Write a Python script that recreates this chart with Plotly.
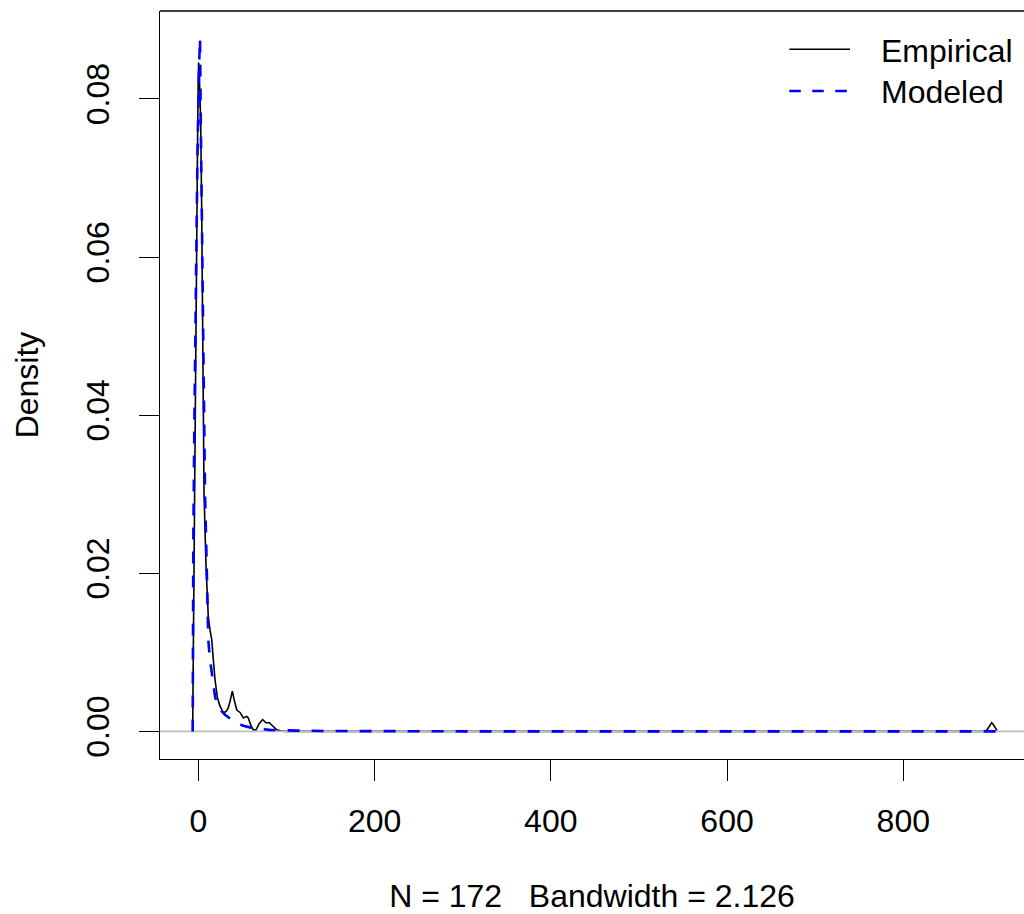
import plotly.graph_objects as go

# ---- data ----
emp_x = [-6.4, -6.0, -5.7, -4.7, -3.7, -2.7, -1.8, -1.0, -0.3, 0.3, 1.0, 1.8, 2.7, 3.8,
         5.0, 6.5, 8.7, 11.3, 13.3, 15.2, 17.0, 19.0, 21.6, 24.6, 27.7, 30.0, 32.2, 34.0,
         36.0, 38.6, 40.9, 43.6, 47.3, 51.1, 54.9, 56.7, 59.5, 62.4, 65.5, 69.2, 73.0,
         76.8, 80.6, 84.4, 89.0, 95.0, 100.0, 890.0, 893.0, 895.0, 897.0, 899.0, 900.3,
         902.0, 904.0, 906.4]
emp_y = [0.0003, 0.006, 0.016, 0.030, 0.042, 0.053, 0.063, 0.073, 0.081, 0.0846, 0.0835,
         0.081, 0.077, 0.066, 0.048, 0.030, 0.021, 0.0145, 0.0128, 0.0116, 0.0091, 0.0065,
         0.0043, 0.0032, 0.0025, 0.0024, 0.0026, 0.0030, 0.0038, 0.0051, 0.0039, 0.0027,
         0.0024, 0.0017, 0.0019, 0.0017, 0.0008, 0.0002, 0.0002, 0.0010, 0.0015, 0.0011,
         0.0011, 0.0007, 0.0002, 0.00003, 0.0, 0.0, 0.00003, 0.0002, 0.0006, 0.0010,
         0.00109, 0.0009, 0.0005, 0.0001]

mod_x = [-6.4, -6.2, -5.7, -4.5, -3.0, -1.1, 0.8, 1.9, 2.7, 3.8, 5.0, 6.1, 7.6, 9.5,
         11.3, 13.0, 15.2, 17.0, 19.0, 22.7, 30.3, 39.7, 51.0, 62.4, 81.0, 112.0, 150.0,
         300.0, 600.0, 906.4]
mod_y = [0.0, 0.012, 0.024, 0.039, 0.057, 0.072, 0.084, 0.0877, 0.078, 0.066, 0.054,
         0.042, 0.030, 0.021, 0.0116, 0.0093, 0.0074, 0.0058, 0.0044, 0.0030, 0.0021,
         0.0013, 0.0007, 0.0004, 0.0002, 0.0001, 0.00005, 0.00001, 0.0, 0.0]

x_ticks = [0, 200, 400, 600, 800]
y_ticks = [0.0, 0.02, 0.04, 0.06, 0.08]
y_ticktext = ["0.00", "0.02", "0.04", "0.06", "0.08"]
legend_names = ["Empirical", "Modeled"]
x_title = "N = 172\u00a0\u00a0 Bandwidth = 2.126"
y_title = "Density"

X_RANGE = [-43.5, 937.0]
Y_RANGE = [-0.00349, 0.09112]

FONT = dict(family="Liberation Sans, Arial, sans-serif", size=32, color="black")

fig = go.Figure()
fig.add_trace(go.Scatter(x=emp_x, y=emp_y, mode="lines", name=legend_names[0],
                         line=dict(color="black", width=1.6), showlegend=False))
fig.add_trace(go.Scatter(x=X_RANGE, y=[0, 0], mode="lines", line=dict(color="#bebebe", width=1.6),
                         showlegend=False, hoverinfo="skip"))
fig.add_trace(go.Scatter(x=mod_x, y=mod_y, mode="lines", name=legend_names[1],
                         line=dict(color="#0000ff", width=2.6, dash="12px,12px"), showlegend=False))

L, T, B = 160, 11, 155
W, H = 1024, 914
pw = W - L
ph = H - T - B


def px_x(p):
    return (p - L) / pw


def px_y(p):
    return (H - B - p) / ph


shapes = [
    dict(type="line", xref="paper", yref="paper", x0=0, x1=1, y0=1, y1=1,
         line=dict(color="black", width=1.3)),
    dict(type="line", xref="paper", yref="paper", x0=px_x(789.3), x1=px_x(850), y0=px_y(49.3), y1=px_y(49.3),
         line=dict(color="black", width=1.6)),
    dict(type="line", xref="paper", yref="paper", x0=px_x(789.3), x1=px_x(850), y0=px_y(91), y1=px_y(91),
         line=dict(color="#0000ff", width=2.6, dash="11.5px,11.5px")),
]
annotations = [
    dict(xref="paper", yref="paper", x=px_x(879), y=px_y(50.5), text=legend_names[0], showarrow=False,
         xanchor="left", yanchor="middle", font=FONT),
    dict(xref="paper", yref="paper", x=px_x(879), y=px_y(92), text=legend_names[1], showarrow=False,
         xanchor="left", yanchor="middle", font=FONT),
]

fig.update_layout(
    width=W, height=H,
    margin=dict(l=L, r=0, t=T, b=B, pad=0),
    paper_bgcolor="white", plot_bgcolor="white",
    font=FONT,
    shapes=shapes, annotations=annotations,
    xaxis=dict(range=X_RANGE, tickvals=x_ticks, ticks="outside", ticklen=21, tickwidth=1.3,
               tickcolor="black", showline=True, linecolor="black", linewidth=1.3,
               showgrid=False, zeroline=False, tickfont=FONT, ticklabelstandoff=12,
               title=dict(text=x_title, font=FONT, standoff=49)),
    yaxis=dict(range=Y_RANGE, tickvals=y_ticks, ticktext=y_ticktext, tickangle=-90,
               ticks="outside", ticklen=20, tickwidth=1.3, tickcolor="black",
               showline=True, linecolor="black", linewidth=1.3, ticklabelstandoff=17,
               showgrid=False, zeroline=False, tickfont=FONT,
               title=dict(text=y_title, font=FONT, standoff=31)),
)

fig.write_html("out.html")
